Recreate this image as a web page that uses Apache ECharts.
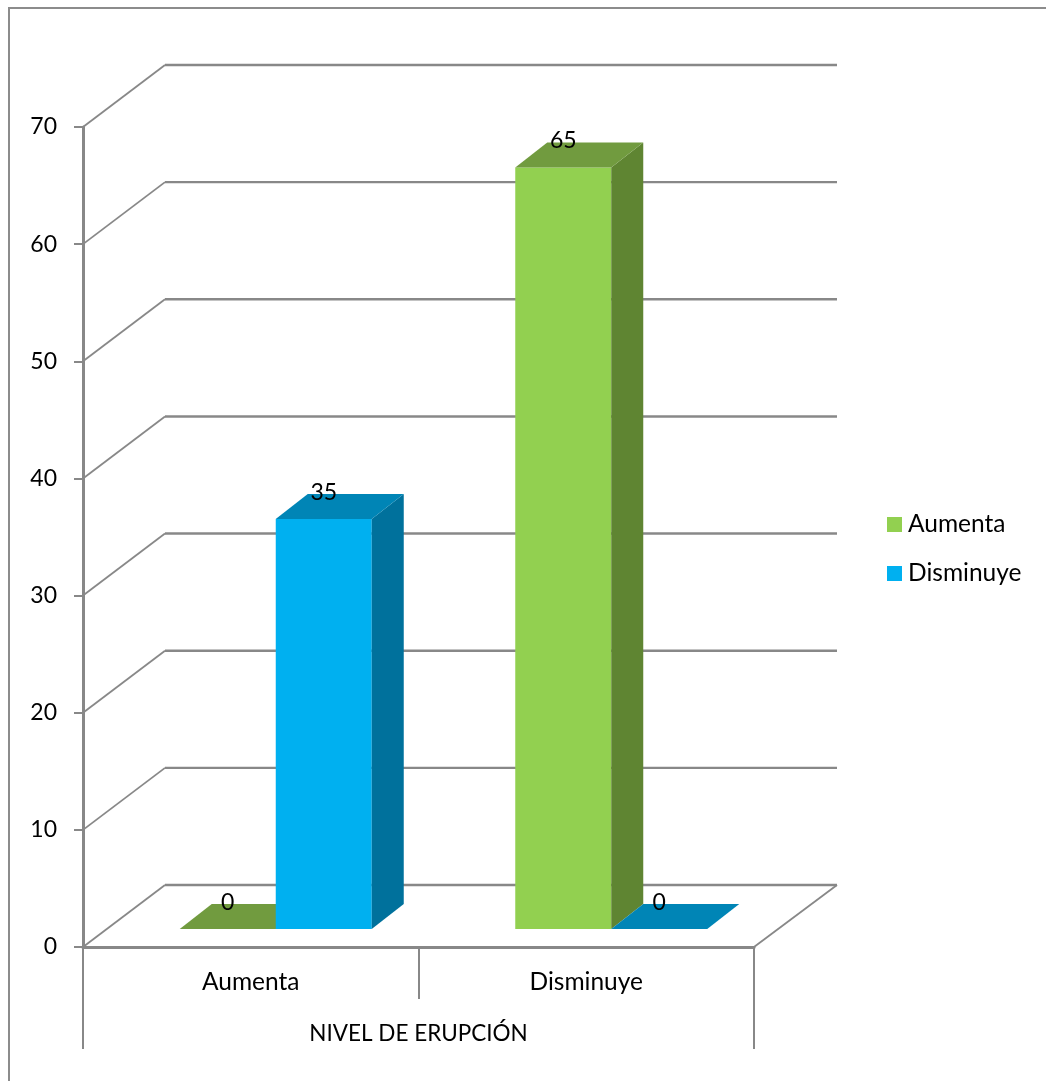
<!DOCTYPE html>
<html>
<head>
<meta charset="utf-8">
<title>Nivel de erupción</title>
<style>html,body{margin:0;padding:0;background:#fff}#chart{width:1046px;height:1081px}</style>
<script src="https://cdn.jsdelivr.net/npm/echarts@6/dist/echarts.min.js"></script>
</head>
<body>
<div id="chart"></div>
<script>
// Chart data
const categories = ['Aumenta', 'Disminuye'];
const groupTitle = ['NIVEL DE ERUPCIÓN'];
const aumenta = [0, 65];
const disminuye = [35, 0];
const yTicks = [0, 10, 20, 30, 40, 50, 60, 70];

// Pseudo-3D look: depth of the chart box and of each column, in pixels
const WALL_DX = 82, WALL_DY = -62, WALL_RIGHT_DX = 83;
const BAR_W = 96, BAR_DX = 32, BAR_DY = -25, BAR_LIFT = -18;
const LINE = '#888888';
const FONT = 'Lato';
const TEXT_SIZE = 24.5, NUM_SIZE = 23, TITLE_SIZE = 22.5;

// Back wall, side wall and floor lines
function renderWalls(params, api) {
  const v = api.value(0);
  const cs = params.coordSys;
  const y = api.coord([0, v])[1];
  const left = cs.x, right = cs.x + cs.width;
  const diag = { stroke: LINE, lineWidth: 1.8, fill: null };
  const back = { stroke: LINE, lineWidth: 2.4, fill: null };
  const children = [
    { type: 'line', shape: { x1: left, y1: y, x2: left + WALL_DX, y2: y + WALL_DY }, style: diag },
    { type: 'line', shape: { x1: left + WALL_DX, y1: y + WALL_DY, x2: right + WALL_RIGHT_DX, y2: y + WALL_DY }, style: back }
  ];
  if (v === 0) {
    children.push({ type: 'line', shape: { x1: right, y1: y, x2: right + WALL_RIGHT_DX, y2: y + WALL_DY }, style: diag });
  }
  return { type: 'group', children };
}

// One column: front, top and side faces plus its value label
function barRenderer(slotOffset, front, top, side) {
  return function (params, api) {
    const idx = api.value(0), val = api.value(1);
    const p = api.coord([idx, val]);
    const base = api.coord([idx, 0]);
    const x0 = p[0] + slotOffset, x1 = x0 + BAR_W;
    const yTop = p[1] + BAR_LIFT, yBot = base[1] + BAR_LIFT;
    const children = [];
    if (val > 0) {
      children.push({ type: 'rect', shape: { x: x0, y: yTop, width: BAR_W, height: yBot - yTop }, style: { fill: front } });
      children.push({ type: 'polygon', shape: { points: [[x1, yTop], [x1 + BAR_DX, yTop + BAR_DY], [x1 + BAR_DX, yBot + BAR_DY], [x1, yBot]] }, style: { fill: side } });
    }
    children.push({ type: 'polygon', shape: { points: [[x0, yTop], [x0 + BAR_DX, yTop + BAR_DY], [x1 + BAR_DX, yTop + BAR_DY], [x1, yTop]] }, style: { fill: top } });
    children.push({ type: 'text', z2: 10, style: { text: String(val), x: x0 + BAR_W / 2, y: yTop - 26.5, align: 'center', verticalAlign: 'middle', font: NUM_SIZE + 'px ' + FONT, fill: '#000' } });
    return { type: 'group', children };
  };
}

const chart = echarts.init(document.getElementById('chart'), null, { renderer: 'canvas' });
chart.setOption({
  animation: false,
  backgroundColor: '#fff',
  textStyle: { fontFamily: FONT },
  graphic: [{
    type: 'polyline',
    shape: { points: [[9, 1081], [9, 8], [1046, 8]] },
    style: { stroke: '#8c8c8c', lineWidth: 2, fill: null }
  }],
  legend: {
    orient: 'vertical',
    left: 882,
    top: 507,
    itemWidth: 15,
    itemHeight: 15,
    itemGap: 24,
    textStyle: { fontFamily: FONT, fontSize: TEXT_SIZE, color: '#000', padding: [0, 0, 0, 1] },
    data: [{ name: 'Aumenta', icon: 'rect' }, { name: 'Disminuye', icon: 'rect' }]
  },
  grid: { left: 83, top: 127, width: 671, height: 820, containLabel: false },
  xAxis: [
    {
      type: 'category',
      data: categories,
      axisLine: { lineStyle: { color: LINE, width: 3 } },
      axisTick: { show: true, length: 52, lineStyle: { color: LINE, width: 2 } },
      axisLabel: { margin: 23, color: '#000', fontFamily: FONT, fontSize: TEXT_SIZE }
    },
    {
      type: 'category',
      position: 'bottom',
      data: groupTitle,
      axisLine: { show: false },
      axisTick: { show: true, length: 102, lineStyle: { color: LINE, width: 2 } },
      axisLabel: { margin: 75, color: '#000', fontFamily: FONT, fontSize: TITLE_SIZE }
    }
  ],
  yAxis: {
    type: 'value',
    min: 0,
    max: 70,
    interval: 10,
    splitLine: { show: false },
    axisLine: { show: true, lineStyle: { color: LINE, width: 3 } },
    axisTick: { show: true, length: 9, lineStyle: { color: LINE, width: 2 } },
    axisLabel: { margin: 26, color: '#000', fontFamily: FONT, fontSize: NUM_SIZE, verticalAlignMaxLabel: 'middle', verticalAlignMinLabel: 'middle', padding: [2, 0, 0, 0] }
  },
  series: [
    {
      type: 'custom',
      name: 'walls',
      silent: true,
      z: 1,
      clip: false,
      renderItem: renderWalls,
      encode: { y: 0 },
      data: yTicks.map(v => [v])
    },
    {
      type: 'custom',
      name: 'Aumenta',
      z: 3,
      clip: false,
      itemStyle: { color: '#92D050' },
      renderItem: barRenderer(-71, '#92D050', '#719B3F', '#5F8532'),
      encode: { x: 0, y: 1 },
      data: aumenta.map((v, i) => [i, v])
    },
    {
      type: 'custom',
      name: 'Disminuye',
      z: 3,
      clip: false,
      itemStyle: { color: '#00B0F0' },
      renderItem: barRenderer(25, '#00B0F0', '#0085B6', '#00719C'),
      encode: { x: 0, y: 1 },
      data: disminuye.map((v, i) => [i, v])
    }
  ]
});
</script>
</body>
</html>
